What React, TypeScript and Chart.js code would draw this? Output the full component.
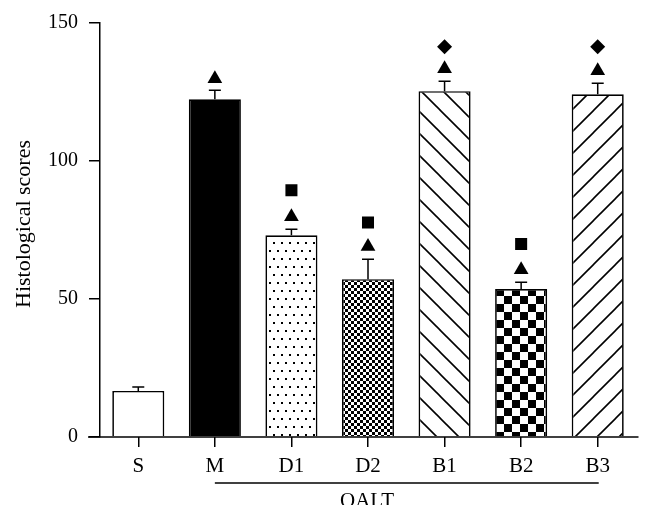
import React, { useEffect, useRef } from "react";
import { Chart, registerables } from "chart.js";

Chart.register(...registerables);

const categories = ["S", "M", "D1", "D2", "B1", "B2", "B3"];
const means = [16.7, 122.4, 73.1, 57.2, 125.3, 53.6, 124.2];
const errors = [1.4, 3.2, 2.2, 7.2, 3.6, 2.5, 4.0];
const triangles = [null, 129.8, 79.8, 69.0, 133.4, 60.6, 132.7];
const squares = [null, null, 89.4, 77.7, null, 69.9, null];
const diamonds = [null, null, null, null, 141.4, null, 141.4];
const yTicks = [0, 50, 100, 150];
const yTitle = "Histological scores";
const groupLabel = "OALT";

const FONT = "'Liberation Serif', 'Times New Roman', serif";

function makeTile(w: number, h: number, draw: (c: CanvasRenderingContext2D) => void) {
  const cv = document.createElement("canvas");
  cv.width = w;
  cv.height = h;
  const c = cv.getContext("2d")!;
  c.fillStyle = "#fff";
  c.fillRect(0, 0, w, h);
  draw(c);
  return c.createPattern(cv, "repeat")!;
}

function makePatterns() {
  const dots = makeTile(8, 16, (c) => {
    c.fillStyle = "#000";
    c.fillRect(1, 2, 2, 2);
    c.fillRect(5, 10, 2, 2);
  });
  const fine = makeTile(6, 6, (c) => {
    c.fillStyle = "#000";
    c.fillRect(0, 0, 3, 3);
    c.fillRect(3, 3, 3, 3);
  });
  const big = makeTile(16, 16, (c) => {
    c.fillStyle = "#000";
    c.fillRect(0, 0, 8, 8);
    c.fillRect(8, 8, 8, 8);
  });
  const s = 22;
  const back = makeTile(s, s, (c) => {
    c.strokeStyle = "#000";
    c.lineWidth = 1.6;
    for (let k = -1; k <= 1; k++) {
      c.beginPath();
      c.moveTo(-2, -2 + k * s);
      c.lineTo(s + 2, s + 2 + k * s);
      c.stroke();
    }
  });
  const fwd = makeTile(s, s, (c) => {
    c.strokeStyle = "#000";
    c.lineWidth = 1.6;
    for (let k = -1; k <= 1; k++) {
      c.beginPath();
      c.moveTo(-2, s + 2 + k * s);
      c.lineTo(s + 2, -2 + k * s);
      c.stroke();
    }
  });
  return ["#ffffff", "#000000", dots, fine, back, big, fwd];
}

const extras = {
  id: "extras",
  afterDatasetsDraw(chart: any) {
    const ctx = chart.ctx;
    const ys = chart.scales.y;
    const area = chart.chartArea;
    const meta = chart.getDatasetMeta(0);
    ctx.save();
    ctx.strokeStyle = "#000";
    ctx.lineWidth = 1.5;
    meta.data.forEach((el: any, i: number) => {
      const top = ys.getPixelForValue(means[i] + errors[i]);
      ctx.beginPath();
      ctx.moveTo(el.x, el.y);
      ctx.lineTo(el.x, top);
      ctx.moveTo(el.x - 6, top);
      ctx.lineTo(el.x + 6, top);
      ctx.stroke();
    });
    // x axis line
    ctx.beginPath();
    ctx.moveTo(area.left - 12, area.bottom);
    ctx.lineTo(area.right + 2.5, area.bottom);
    ctx.stroke();
    // group line
    const xs = chart.scales.x;
    const x1 = xs.getPixelForValue(1);
    const x2 = xs.getPixelForValue(6);
    ctx.beginPath();
    ctx.moveTo(x1, 483);
    ctx.lineTo(x2 + 1, 483);
    ctx.stroke();
    ctx.fillStyle = "#000";
    ctx.font = `21px ${FONT}`;
    ctx.save();
    ctx.beginPath();
    ctx.rect(0, 0, chart.width, 505);
    ctx.clip();
    ctx.textAlign = "center";
    ctx.textBaseline = "alphabetic";
    ctx.fillText(groupLabel, 367, 507);
    ctx.restore();
    // y title
    ctx.save();
    ctx.translate(24, 224);
    ctx.rotate(-Math.PI / 2);
    ctx.textAlign = "center";
    ctx.textBaseline = "middle";
    ctx.font = `22px ${FONT}`;
    ctx.fillText(yTitle, 0, 0);
    ctx.restore();
    ctx.restore();
  },
};

export default function App() {
  const ref = useRef<HTMLCanvasElement>(null);
  useEffect(() => {
    const patterns = makePatterns();
    const chart = new Chart(ref.current!, {
      type: "bar",
      data: {
        labels: categories,
        datasets: [
          {
            type: "bar",
            data: means,
            backgroundColor: patterns as any,
            borderColor: "#000",
            borderWidth: 1.7,
            categoryPercentage: 1,
            barPercentage: 0.68,
            order: 2,
          },
          {
            type: "line",
            data: triangles as any,
            showLine: false,
            pointStyle: "triangle",
            pointRadius: 8.5,
            pointBackgroundColor: "#000",
            pointBorderColor: "#000",
            pointBorderWidth: 0,
            order: 1,
          },
          {
            type: "line",
            data: squares as any,
            showLine: false,
            pointStyle: "rect",
            pointRadius: 8.5,
            pointBackgroundColor: "#000",
            pointBorderColor: "#000",
            pointBorderWidth: 0,
            order: 1,
          },
          {
            type: "line",
            data: diamonds as any,
            showLine: false,
            pointStyle: "rectRot",
            pointRadius: 7.5,
            pointBackgroundColor: "#000",
            pointBorderColor: "#000",
            pointBorderWidth: 0,
            order: 1,
          },
        ],
      },
      options: {
        responsive: false,
        animation: false,
        layout: { padding: { top: 23, right: 17, left: 0, bottom: 0 } },
        plugins: { legend: { display: false }, tooltip: { enabled: false } },
        scales: {
          x: {
            grid: {
              display: true,
              drawOnChartArea: false,
              drawTicks: true,
              tickLength: 10,
              offset: false,
              color: "#000",
              lineWidth: 1.5,
            },
            border: { display: false },
            ticks: { color: "#000", font: { family: FONT, size: 21 }, padding: 7 },
            afterFit: (s: any) => {
              s.height = 81;
            },
          },
          y: {
            min: 0,
            max: 150,
            afterBuildTicks: (s: any) => {
              s.ticks = yTicks.map((v) => ({ value: v }));
            },
            grid: {
              display: true,
              drawOnChartArea: false,
              tickLength: 11,
              color: "#000",
              lineWidth: 1.5,
            },
            border: { display: true, color: "#000", width: 1.5 },
            ticks: { color: "#000", font: { family: FONT, size: 20 }, padding: 11 },
            afterFit: (s: any) => {
              s.width = 100;
            },
          },
        },
      },
      plugins: [extras],
    });
    return () => chart.destroy();
  }, []);
  return (
    <div style={{ position: "fixed", left: 0, top: 0, width: 653, height: 518, background: "#fff" }}>
      <canvas ref={ref} width={653} height={518} style={{ width: 653, height: 518 }} />
    </div>
  );
}
